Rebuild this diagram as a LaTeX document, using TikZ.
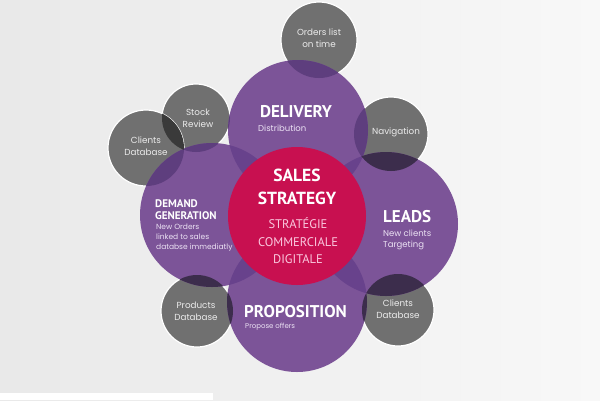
\documentclass[tikz,border=0pt]{standalone}
\usepackage{fontspec}
\setmainfont{PT Sans}
\newfontfamily\bodyf{Poppins}
\definecolor{bgL}{RGB}{233,233,233}
\definecolor{bgR}{RGB}{248,248,248}
\definecolor{purp}{RGB}{124,84,152}
\definecolor{pplens}{RGB}{104,66,140}
\definecolor{gplight}{RGB}{94,62,126}
\definecolor{gpdark}{RGB}{60,45,76}
\definecolor{ggray}{RGB}{112,112,112}
\definecolor{gglens}{RGB}{58,58,58}
\definecolor{crim}{RGB}{200,16,80}
\definecolor{pinktxt}{RGB}{250,200,222}
\definecolor{lavtxt}{RGB}{236,226,244}
\definecolor{graytxt}{RGB}{236,236,236}
\tikzset{
  head/.style={text=white, inner sep=0pt, font=\bfseries\fontsize{17}{17}\selectfont},
  subtxt/.style={text=lavtxt, inner sep=0pt, align=left, font=\bodyf\fontsize{8.5}{10.5}\selectfont},
  graylbl/.style={text=graytxt, inner sep=0pt, align=center, font=\bodyf\fontsize{8.8}{12}\selectfont},
  grayc/.style={fill=ggray, draw=white, line width=1.2pt},
  purpc/.style={fill=purp},
}
\newcommand{\lens}[5]{\begin{scope}\clip (#1) circle (#2);\fill[#5] (#3) circle (#4);\end{scope}}
\begin{document}
\begin{tikzpicture}[x=1pt,y=-1pt]
\shade[left color=bgL,right color=bgR] (0,0) rectangle (600,400);
\useasboundingbox (0,0) rectangle (600,400);
\fill[white] (0,393) rectangle (213,400);
% centres
\coordinate (del) at (298,130);
\coordinate (dem) at (212,215);
\coordinate (lea) at (386,224);
\coordinate (pro) at (297,302);
\coordinate (red) at (297,216);
\coordinate (ord) at (319,40);
\coordinate (sto) at (196,118);
\coordinate (cll) at (146,148);
\coordinate (nav) at (391,134);
\coordinate (prd) at (197,311);
\coordinate (clr) at (398,310);
% gray circles
\path[grayc] (ord) circle (38);
\path[grayc] (sto) circle (34);
\path[grayc] (cll) circle (38);
\path[grayc] (nav) circle (37);
\path[grayc] (prd) circle (36);
\path[grayc] (clr) circle (36);
% purple circles
\fill[purp] (del) circle (70);
\fill[purp] (dem) circle (72);
\fill[purp] (lea) circle (72);
\fill[purp] (pro) circle (70);
% purple-purple lenses
\lens{del}{70}{dem}{72}{pplens}
\lens{del}{70}{lea}{72}{pplens}
\lens{dem}{72}{pro}{70}{pplens}
\lens{lea}{72}{pro}{70}{pplens}
% gray-purple lenses
\lens{ord}{38}{del}{70}{gplight}
\lens{sto}{34}{del}{70}{gplight}
\lens{sto}{34}{dem}{72}{gplight}
\lens{cll}{38}{dem}{72}{gplight}
\lens{nav}{37}{del}{70}{gplight}
\lens{nav}{37}{lea}{72}{gpdark}
\lens{prd}{36}{dem}{72}{gpdark}
\lens{prd}{36}{pro}{70}{gpdark}
\lens{clr}{36}{lea}{72}{gpdark}
\lens{clr}{36}{pro}{70}{gpdark}
% gray-gray lens
\lens{sto}{34}{cll}{38}{gglens}
% centre
\fill[crim] (red) circle (69);
% texts
\node[graylbl] (tord) at (319,38) {Orders list\\on time};
\node[graylbl] (tsto) at (198,118) {Stock\\Review};
\node[graylbl] (tcll) at (146,146) {Clients\\Database};
\node[graylbl] (tnav) at (396,132) {Navigation};
\node[graylbl] (tprd) at (196,311) {Products\\Database};
\node[graylbl] (tclr) at (398,309) {Clients\\Database};
\node[head] (tdel) at (296,112) {DELIVERY};
\node[subtxt, anchor=west] (tdis) at (258,128) {Distribution};
\node[head, align=center, font=\bfseries\fontsize{17.5}{23}\selectfont] (tsal) at (297,187) {SALES\\STRATEGY};
\node[text=pinktxt, inner sep=0pt, align=center, font=\fontsize{12.5}{17.5}\selectfont] (tstr) at (298,241) {STRATÉGIE\\COMMERCIALE\\DIGITALE};
\node[head, anchor=west] (tlea) at (383,217) {LEADS};
\node[subtxt, anchor=north west, font=\bodyf\fontsize{8.5}{11}\selectfont] (tnew) at (383,230) {New clients\\Targeting};
\node[head, anchor=north west, align=left, font=\bfseries\fontsize{11}{12}\selectfont] (tdem) at (155,199) {DEMAND\\GENERATION};
\node[subtxt, anchor=north west, font=\bodyf\fontsize{7.5}{10}\selectfont] (tord2) at (156,224) {New Orders\\linked to sales\\databse immediatly};
\node[head, anchor=west] (tpro) at (244,312) {PROPOSITION};
\node[subtxt, anchor=west, font=\bodyf\fontsize{7}{8}\selectfont] (tpof) at (245,327) {Propose offers};
\end{tikzpicture}
\end{document}
